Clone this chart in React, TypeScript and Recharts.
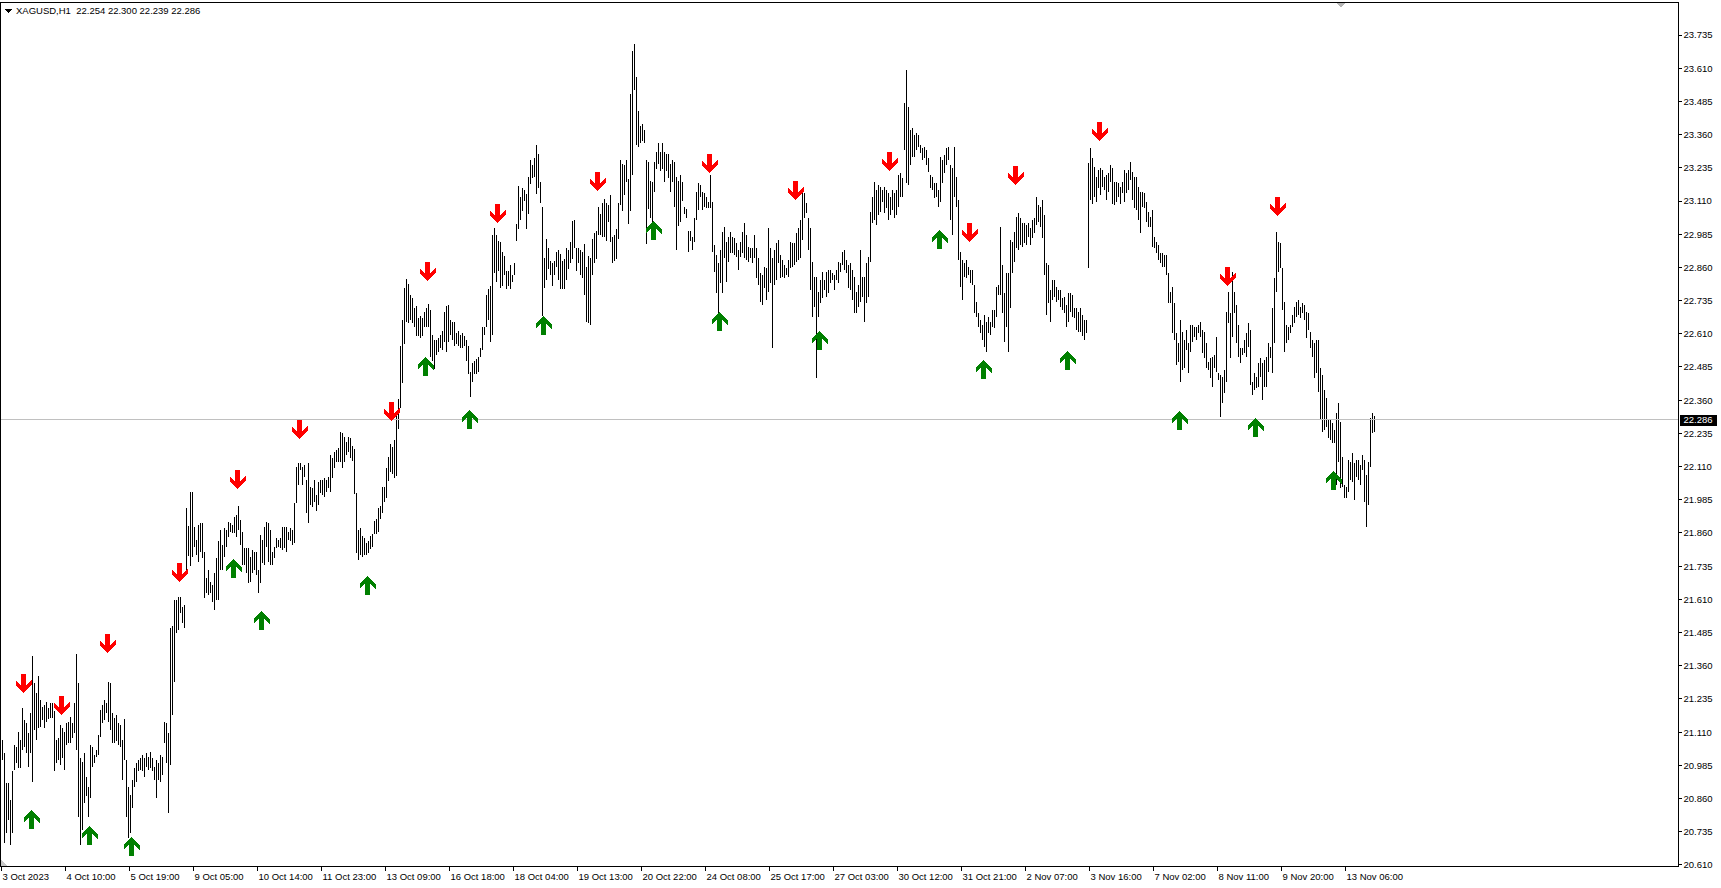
import React from "react";
import { ComposedChart, Bar, Scatter, XAxis, YAxis, ReferenceLine } from "recharts";

const FONT = '"Liberation Sans", Arial, sans-serif';

// XAGUSD H1 bars from 3 Oct 2023, high / low of each hour
const highs = [
  21.080, 21.031, 20.918, 20.918, 20.855, 20.962, 21.062, 21.056, 21.112, 21.081,
  21.200, 21.156, 21.144, 21.106, 21.181, 21.397, 21.294, 21.257, 21.322, 21.232,
  21.206, 21.213, 21.225, 21.200, 21.219, 21.219, 21.188, 21.081, 21.087, 21.137,
  21.125, 21.112, 21.144, 21.150, 21.169, 21.144, 21.219, 21.405, 21.294, 21.012,
  20.999, 21.031, 20.943, 20.905, 21.062, 21.056, 21.024, 21.043, 21.100, 21.194,
  21.213, 21.232, 21.219, 21.298, 21.297, 21.181, 21.163, 21.175, 21.144, 21.137,
  21.081, 21.159, 21.005, 20.905, 20.874, 20.930, 20.974, 20.993, 21.005, 21.012,
  21.024, 21.012, 21.031, 21.018, 21.037, 21.012, 20.980, 21.005, 20.993, 21.024,
  21.018, 21.150, 21.144, 21.106, 21.501, 21.508, 21.608, 21.608, 21.620, 21.620,
  21.583, 21.589, 21.953, 21.887, 22.016, 22.016, 21.884, 21.834, 21.890, 21.897,
  21.897, 21.790, 21.690, 21.721, 21.677, 21.664, 21.708, 21.765, 21.828, 21.872,
  21.815, 21.878, 21.872, 21.903, 21.897, 21.890, 21.922, 21.928, 21.962, 21.909,
  21.865, 21.803, 21.803, 21.803, 21.771, 21.796, 21.790, 21.790, 21.721, 21.853,
  21.834, 21.884, 21.903, 21.897, 21.872, 21.790, 21.809, 21.840, 21.834, 21.840,
  21.884, 21.884, 21.884, 21.865, 21.878, 21.872, 21.972, 22.110, 22.123, 22.123,
  22.110, 22.116, 22.060, 22.123, 22.035, 22.028, 22.060, 22.003, 22.053, 22.060,
  22.060, 22.066, 22.060, 22.072, 22.154, 22.141, 22.166, 22.173, 22.179, 22.242,
  22.235, 22.223, 22.204, 22.223, 22.217,
  22.189, 22.175, 22.012, 21.870, 21.877, 21.849, 21.842, 21.821, 21.828, 21.849,
  21.856, 21.906, 21.913, 21.955, 21.962, 22.033, 22.033, 22.104, 22.146, 22.196,
  22.182, 22.210, 22.302, 22.366, 22.564, 22.663, 22.784, 22.816, 22.798, 22.755,
  22.745, 22.706, 22.713, 22.670, 22.678, 22.670, 22.692, 22.706, 22.723, 22.699,
  22.607, 22.585, 22.585, 22.593, 22.607, 22.621, 22.692, 22.713, 22.720, 22.663,
  22.656, 22.656, 22.614, 22.621, 22.607, 22.614, 22.600, 22.585, 22.564, 22.465,
  22.500, 22.508, 22.515, 22.522, 22.557, 22.635, 22.635, 22.755, 22.777, 22.791,
  22.982, 23.010, 22.982, 22.961, 22.954, 22.918, 22.904, 22.848, 22.848, 22.869,
  22.833, 22.876, 23.024, 23.166, 23.124, 23.159, 23.152, 23.138, 23.202, 23.265,
  23.244, 23.272, 23.322, 23.287, 23.180, 23.088, 22.897, 22.968, 22.932, 22.883,
  22.876, 22.883, 22.918, 22.925, 22.911, 22.883, 22.890, 22.932, 22.925, 22.954,
  23.034, 23.039, 22.932, 22.932, 22.925, 22.918, 22.947, 22.862, 22.904, 22.897,
  22.968, 22.989, 22.996, 23.088, 23.060, 23.102, 23.117, 23.102, 23.095, 23.131,
  22.975, 22.982, 23.003, 23.102, 23.265, 23.251, 23.244, 23.265, 23.194, 23.513,
  23.676, 23.700, 23.577, 23.449, 23.393, 23.400, 23.379, 23.265, 23.258, 23.187,
  23.180, 23.258, 23.294, 23.329, 23.294, 23.329, 23.294, 23.287, 23.287, 23.251,
  23.265, 23.258, 23.202, 23.187, 23.209, 23.180, 23.088, 23.081, 22.996, 22.996,
  22.976, 23.045, 23.145, 23.177, 23.170, 23.145, 23.139, 23.126, 23.107, 23.208,
  23.107, 22.944, 22.907, 22.875, 22.926, 22.995, 23.013, 22.957, 22.976, 22.995,
  22.976, 22.969, 22.951, 22.926, 22.957, 22.995, 23.026, 22.982, 22.938, 22.932,
  22.932, 22.982, 22.932, 22.894, 22.838, 22.831, 22.863, 22.856, 23.007, 22.932,
  22.894, 22.926, 22.951, 22.963, 22.907, 22.888, 22.869, 22.856, 22.888, 22.957,
  22.951, 22.951, 22.988, 23.007, 23.038, 23.139, 23.139, 23.101, 23.045, 23.007,
  22.882, 22.825, 22.825, 22.769, 22.813, 22.844, 22.813, 22.844, 22.850, 22.850,
  22.838, 22.831, 22.850, 22.882, 22.875, 22.919, 22.926, 22.888, 22.869, 22.875,
  22.850, 22.825, 22.769, 22.794, 22.926, 22.825, 22.825, 22.875, 22.900, 23.070,
  23.126, 23.183, 23.151, 23.170, 23.164, 23.151, 23.164, 23.151, 23.139, 23.126,
  23.151, 23.139, 23.151, 23.208, 23.214, 23.195, 23.478, 23.603, 23.465, 23.377,
  23.384, 23.358, 23.365, 23.358, 23.321, 23.308, 23.315, 23.302, 23.271, 23.208,
  23.202, 23.177, 23.177, 23.151, 23.277, 23.264, 23.283, 23.308, 23.315, 23.246,
  23.233, 23.315, 23.202, 23.114, 22.919, 22.888, 22.875, 22.888, 22.863, 22.850,
  22.850, 22.794, 22.731, 22.687, 22.662, 22.643, 22.681, 22.656, 22.675, 22.656,
  22.700, 22.700, 22.788, 22.794, 23.013, 22.869, 22.762, 22.838, 22.838, 22.963,
  22.957, 22.995, 23.051, 23.064, 23.045, 23.026, 23.026, 23.020, 23.026, 23.007,
  23.038, 23.045, 23.126, 23.095, 23.089, 23.114, 23.057, 22.875, 22.869, 22.775,
  22.813, 22.813, 22.787, 22.775, 22.775, 22.744, 22.750, 22.718, 22.762, 22.762,
  22.756, 22.706, 22.706, 22.693, 22.706, 22.681, 22.662, 22.662, 23.252, 23.308,
  23.271, 23.239, 23.202, 23.227, 23.233, 23.227, 23.202, 23.208, 23.214, 23.246,
  23.233, 23.183, 23.183, 23.176, 23.164, 23.183, 23.227, 23.214, 23.227, 23.258,
  23.220, 23.202, 23.202, 23.164, 23.145, 23.145, 23.139, 23.107, 23.070, 23.051,
  23.076, 22.976, 22.957, 22.944, 22.913, 22.913, 22.907, 22.907, 22.838, 22.769,
  22.787, 22.725, 22.612, 22.574, 22.662, 22.618, 22.587, 22.624, 22.574, 22.643,
  22.643, 22.637, 22.637, 22.643, 22.656, 22.624, 22.618, 22.574, 22.505, 22.518,
  22.524, 22.530, 22.599, 22.461, 22.455, 22.449, 22.474, 22.693, 22.769, 22.687,
  22.844, 22.769, 22.718, 22.643, 22.555, 22.555, 22.587, 22.612, 22.649, 22.624,
  22.430, 22.461, 22.449, 22.499, 22.518, 22.499, 22.511, 22.524, 22.574, 22.562,
  22.706, 22.819, 22.995, 22.957, 22.951, 22.856, 22.731, 22.643, 22.637, 22.643,
  22.681, 22.712, 22.731, 22.737, 22.712, 22.725, 22.718, 22.693, 22.687, 22.618,
  22.587, 22.574, 22.587, 22.587, 22.480, 22.455, 22.398, 22.367, 22.285, 22.285,
  22.273, 22.248, 22.310, 22.348, 22.279, 22.147, 22.041, 22.035, 22.135, 22.129,
  22.160, 22.122, 22.135, 22.135, 22.116, 22.154, 22.135, 22.078, 22.129, 22.292,
  22.310, 22.300,
];

const lows = [
  21.005, 20.692, 20.729, 20.780, 20.686, 20.729, 20.968, 20.993, 20.974, 20.974,
  21.043, 21.056, 21.031, 20.980, 21.031, 20.924, 21.118, 21.081, 21.125, 21.131,
  21.156, 21.125, 21.150, 21.160, 21.163, 21.163, 20.962, 20.993, 21.005, 20.987,
  21.012, 20.968, 21.062, 21.068, 21.068, 21.087, 21.106, 21.043, 20.792, 20.686,
  20.742, 20.842, 20.868, 20.792, 20.861, 20.980, 20.993, 21.018, 21.024, 21.093,
  21.144, 21.156, 21.181, 21.150, 21.118, 21.068, 21.068, 21.075, 21.062, 21.056,
  20.930, 21.005, 20.792, 20.711, 20.729, 20.824, 20.905, 20.924, 20.962, 20.968,
  20.962, 20.943, 20.980, 20.968, 20.974, 20.962, 20.930, 20.861, 20.930, 20.924,
  20.949, 21.068, 20.993, 20.805, 20.987, 21.175, 21.300, 21.483, 21.495, 21.558,
  21.520, 21.501, 21.715, 21.774, 21.734, 21.771, 21.809, 21.777, 21.752, 21.790,
  21.765, 21.614, 21.633, 21.627, 21.633, 21.602, 21.570, 21.608, 21.608, 21.721,
  21.721, 21.771, 21.809, 21.846, 21.865, 21.859, 21.859, 21.846, 21.872, 21.815,
  21.740, 21.740, 21.708, 21.671, 21.677, 21.708, 21.721, 21.702, 21.633, 21.671,
  21.746, 21.740, 21.809, 21.752, 21.740, 21.740, 21.765, 21.803, 21.809, 21.803,
  21.796, 21.803, 21.790, 21.834, 21.828, 21.815, 21.821, 21.972, 22.041, 22.097,
  22.041, 22.072, 21.934, 21.897, 21.966, 21.959, 21.978, 21.941, 21.966, 22.010,
  22.003, 21.997, 22.016, 22.028, 22.016, 22.066, 22.104, 22.129, 22.129, 22.129,
  22.104, 22.129, 22.154, 22.166, 22.141,
  22.132, 22.005, 21.785, 21.757, 21.778, 21.771, 21.778, 21.778, 21.785, 21.800,
  21.806, 21.856, 21.856, 21.863, 21.913, 21.934, 21.976, 21.991, 22.054, 22.090,
  22.083, 22.068, 22.076, 22.253, 22.331, 22.423, 22.571, 22.656, 22.649, 22.663,
  22.649, 22.635, 22.600, 22.600, 22.593, 22.600, 22.635, 22.635, 22.635, 22.522,
  22.508, 22.479, 22.529, 22.543, 22.557, 22.550, 22.578, 22.543, 22.578, 22.607,
  22.585, 22.564, 22.571, 22.564, 22.557, 22.557, 22.564, 22.508, 22.458, 22.373,
  22.430, 22.458, 22.458, 22.465, 22.522, 22.550, 22.607, 22.635, 22.663, 22.578,
  22.607, 22.840, 22.805, 22.848, 22.784, 22.791, 22.833, 22.777, 22.791, 22.777,
  22.805, 22.833, 22.961, 23.003, 23.039, 23.074, 23.109, 23.003, 23.060, 23.173,
  23.195, 23.202, 23.138, 23.159, 23.102, 22.678, 22.784, 22.812, 22.855, 22.833,
  22.791, 22.833, 22.862, 22.812, 22.777, 22.777, 22.777, 22.812, 22.855, 22.876,
  22.890, 22.932, 22.848, 22.876, 22.833, 22.819, 22.755, 22.656, 22.649, 22.642,
  22.833, 22.876, 22.890, 22.982, 22.982, 22.975, 22.975, 22.961, 23.030, 22.954,
  22.876, 22.883, 22.890, 22.968, 23.095, 23.074, 23.131, 23.180, 23.024, 23.074,
  23.209, 23.527, 23.322, 23.315, 23.329, 23.336, 23.329, 22.947, 23.081, 23.046,
  23.024, 23.145, 23.230, 23.251, 23.223, 23.230, 23.180, 23.223, 23.195, 23.145,
  23.180, 23.088, 22.925, 23.017, 23.032, 23.109, 23.060, 23.046, 22.918, 22.961,
  22.926, 22.957, 23.038, 23.076, 23.126, 23.076, 23.089, 23.082, 23.082, 23.082,
  22.919, 22.844, 22.762, 22.687, 22.800, 22.762, 22.894, 22.806, 22.882, 22.913,
  22.913, 22.907, 22.900, 22.850, 22.900, 22.913, 22.894, 22.888, 22.882, 22.894,
  22.875, 22.894, 22.819, 22.794, 22.731, 22.718, 22.781, 22.737, 22.769, 22.800,
  22.555, 22.794, 22.813, 22.875, 22.819, 22.825, 22.819, 22.831, 22.825, 22.856,
  22.863, 22.869, 22.882, 22.888, 22.894, 22.963, 23.045, 23.064, 22.926, 22.775,
  22.675, 22.712, 22.442, 22.675, 22.725, 22.744, 22.775, 22.750, 22.762, 22.800,
  22.813, 22.775, 22.813, 22.800, 22.844, 22.869, 22.850, 22.838, 22.781, 22.775,
  22.737, 22.687, 22.687, 22.712, 22.731, 22.750, 22.656, 22.725, 22.750, 22.882,
  23.026, 23.038, 23.020, 23.057, 23.070, 23.107, 23.064, 23.082, 23.038, 23.057,
  23.076, 23.045, 23.057, 23.089, 23.126, 23.126, 23.302, 23.177, 23.170, 23.246,
  23.277, 23.277, 23.302, 23.315, 23.289, 23.264, 23.271, 23.246, 23.220, 23.158,
  23.151, 23.120, 23.126, 23.089, 23.107, 23.177, 23.214, 23.246, 23.264, 23.038,
  22.982, 23.126, 23.089, 22.888, 22.788, 22.737, 22.825, 22.819, 22.831, 22.800,
  22.794, 22.687, 22.675, 22.637, 22.612, 22.587, 22.562, 22.543, 22.612, 22.606,
  22.637, 22.631, 22.675, 22.756, 22.756, 22.687, 22.580, 22.637, 22.543, 22.706,
  22.838, 22.882, 22.932, 22.926, 22.944, 22.938, 22.951, 22.944, 22.976, 22.944,
  22.969, 22.988, 23.020, 23.032, 23.013, 22.969, 22.831, 22.681, 22.725, 22.656,
  22.737, 22.750, 22.731, 22.737, 22.712, 22.700, 22.687, 22.637, 22.656, 22.693,
  22.674, 22.668, 22.624, 22.618, 22.618, 22.600, 22.587, 22.612, 22.856, 23.114,
  23.100, 23.126, 23.107, 23.158, 23.133, 23.164, 23.151, 23.114, 23.145, 23.183,
  23.100, 23.095, 23.107, 23.126, 23.100, 23.139, 23.107, 23.139, 23.151, 23.189,
  23.114, 23.082, 23.076, 23.038, 22.988, 23.089, 23.082, 23.032, 23.013, 23.013,
  22.938, 22.932, 22.913, 22.888, 22.875, 22.863, 22.863, 22.831, 22.725, 22.725,
  22.612, 22.587, 22.493, 22.505, 22.430, 22.474, 22.480, 22.549, 22.461, 22.543,
  22.580, 22.599, 22.587, 22.612, 22.599, 22.536, 22.518, 22.480, 22.474, 22.442,
  22.411, 22.480, 22.467, 22.436, 22.298, 22.348, 22.386, 22.430, 22.649, 22.518,
  22.599, 22.687, 22.574, 22.524, 22.499, 22.530, 22.536, 22.524, 22.562, 22.417,
  22.380, 22.398, 22.405, 22.411, 22.449, 22.361, 22.411, 22.411, 22.467, 22.518,
  22.461, 22.574, 22.769, 22.844, 22.856, 22.700, 22.543, 22.574, 22.587, 22.612,
  22.637, 22.649, 22.674, 22.681, 22.668, 22.687, 22.662, 22.593, 22.624, 22.555,
  22.524, 22.442, 22.461, 22.392, 22.285, 22.241, 22.248, 22.260, 22.216, 22.210,
  22.198, 22.198, 22.041, 22.129, 22.028, 22.034, 21.991, 21.990, 22.016, 22.060,
  22.053, 21.984, 22.072, 22.060, 22.041, 22.097, 21.978, 21.884, 21.965, 22.110,
  22.235, 22.239,
];

// indicator arrows: bar index and the price at the arrow tip
const sellBars = [11, 30, 53, 89, 118, 149, 195, 213, 248, 298, 354, 397, 444, 484, 507, 549, 613, 638];
const sellPrices = [21.258, 21.175, 21.408, 21.676, 22.026, 22.214, 22.282, 22.809, 23.027, 23.148, 23.215, 23.114, 23.223, 22.956, 23.170, 23.336, 22.790, 23.054];
const buyBars = [15, 44, 65, 116, 130, 183, 212, 234, 271, 326, 359, 409, 469, 491, 533, 589, 627, 666];
const buyPrices = [20.817, 20.757, 20.715, 21.762, 21.566, 21.698, 22.523, 22.323, 22.677, 23.035, 22.692, 22.620, 23.001, 22.511, 22.545, 22.319, 22.293, 22.093];

// time scale, a label every 32 bars
const timeLabels = [
  "3 Oct 2023", "4 Oct 10:00", "5 Oct 19:00", "9 Oct 05:00", "10 Oct 14:00", "11 Oct 23:00",
  "13 Oct 09:00", "16 Oct 18:00", "18 Oct 04:00", "19 Oct 13:00", "20 Oct 22:00", "24 Oct 08:00",
  "25 Oct 17:00", "27 Oct 03:00", "30 Oct 12:00", "31 Oct 21:00", "2 Nov 07:00", "3 Nov 16:00",
  "7 Nov 02:00", "8 Nov 11:00", "9 Nov 20:00", "13 Nov 06:00",
];
const priceTicks = [
  20.610, 20.735, 20.860, 20.985, 21.110, 21.235, 21.360, 21.485, 21.610, 21.735, 21.860, 21.985, 22.110,
  22.235, 22.360, 22.485, 22.610, 22.735, 22.860, 22.985, 23.110, 23.235, 23.360, 23.485, 23.610, 23.735,
];

const symbol = "XAGUSD,H1";
const lastOhlc = [22.254, 22.300, 22.239, 22.286];
const lastPrice = lastOhlc[3];
const SLOTS = 839; // bar slots across the window at 2px per bar
const LABEL_STEP = 32;

const rows = [];
for (let i = 0; i < SLOTS; i++) {
  rows.push({ i, hl: i < highs.length ? [lows[i], highs[i]] : null, sell: null, buy: null });
}
sellBars.forEach((b, k) => { rows[b].sell = sellPrices[k]; });
buyBars.forEach((b, k) => { rows[b].buy = buyPrices[k]; });
const labelTicks = timeLabels.map((_, k) => k * LABEL_STEP);

// wingdings style arrow, tip at (0,0) pointing down
const ARROW = [[0, 0], [8, -8], [8, -13], [2.5, -7.5], [2.5, -19], [-2.5, -19], [-2.5, -7.5], [-8, -13], [-8, -8]];

function arrowPoints(cx, cy, dir) {
  return ARROW.map(([x, y]) => `${cx + x},${cy + y * dir}`).join(" ");
}

function SellArrow(props) {
  const { cx, cy, payload } = props;
  if (!payload || payload.sell == null || cx == null || cy == null) return <g />;
  return <polygon points={arrowPoints(cx, cy, 1)} fill="#ff0000" />;
}

function BuyArrow(props) {
  const { cx, cy, payload } = props;
  if (!payload || payload.buy == null || cx == null || cy == null) return <g />;
  return <polygon points={arrowPoints(cx, cy, -1)} fill="#008000" />;
}

function HiLoBar(props) {
  const { x, y, width, height, payload } = props;
  if (!payload || !payload.hl || y == null || isNaN(y)) return <g />;
  return <rect x={x} y={y} width={width} height={Math.max(height, 1)} fill="#000" />;
}

function TimeTick(props) {
  const { x, y, payload } = props;
  const k = Math.round(payload.value / LABEL_STEP);
  return (
    <text x={x + 1} y={y + 7.5} fontSize={9.5} fontFamily={FONT} fill="#000">
      {timeLabels[k]}
    </text>
  );
}

function PriceTag(props) {
  const vb = props.viewBox || {};
  const x = vb.x + vb.width;
  const y = vb.y;
  return (
    <g>
      <rect x={x + 1} y={y - 5} width={37} height={11} fill="#000" />
      <text x={x + 5} y={y + 3.5} fontSize={9.5} fontFamily={FONT} fill="#fff">
        {lastPrice.toFixed(3)}
      </text>
    </g>
  );
}

export default function App() {
  return (
    <div style={{ position: "absolute", left: 0, top: 0, width: 1721, height: 888, background: "#fff", shapeRendering: "crispEdges" }}>
      <ComposedChart
        width={1721}
        height={888}
        data={rows}
        margin={{ top: 2.5, right: 0, bottom: 0, left: 0.5 }}
      >
        <XAxis
          dataKey="i"
          type="category"
          ticks={labelTicks}
          interval={0}
          height={21.5}
          tickSize={4}
          axisLine={{ stroke: "#000" }}
          tickLine={{ stroke: "#000" }}
          tick={(p) => <TimeTick {...p} />}
        />
        <YAxis
          orientation="right"
          type="number"
          domain={[20.6043, 23.8574]}
          allowDataOverflow
          ticks={priceTicks}
          interval={0}
          width={42.5}
          tickSize={3}
          tickMargin={2}
          tickFormatter={(v) => v.toFixed(3)}
          tick={{ fontSize: 9.5, fill: "#000", fontFamily: FONT }}
          axisLine={{ stroke: "#000" }}
          tickLine={{ stroke: "#000" }}
        />
        <ReferenceLine y={lastPrice} stroke="#c0c0c0" label={(p) => <PriceTag {...p} />} />
        <Bar dataKey="hl" barSize={1} fill="#000" shape={(p) => <HiLoBar {...p} />} isAnimationActive={false} />
        <Scatter dataKey="sell" shape={(p) => <SellArrow {...p} />} isAnimationActive={false} />
        <Scatter dataKey="buy" shape={(p) => <BuyArrow {...p} />} isAnimationActive={false} />
      </ComposedChart>
      <div style={{ position: "absolute", left: 0, top: 2, width: 1679, height: 865, boxSizing: "border-box", borderLeft: "1px solid #000", borderTop: "1px solid #000", pointerEvents: "none" }} />
      <svg style={{ position: "absolute", left: 0, top: 0, pointerEvents: "none" }} width={1721} height={888}>
        <polygon points="5,9 12,9 8.5,13" fill="#000" />
        <polygon points="1336,3 1345,3 1340.5,7.5" fill="#b4b4b4" />
        <polygon points="1,860 1,866 7,866" fill="#c8c8c8" />
      </svg>
      <div style={{ position: "absolute", left: 16, top: 5, fontSize: 9.5, lineHeight: "12px", fontFamily: FONT, color: "#000", whiteSpace: "pre" }}>
        {symbol + "  " + lastOhlc.map((v) => v.toFixed(3)).join(" ")}
      </div>
    </div>
  );
}
